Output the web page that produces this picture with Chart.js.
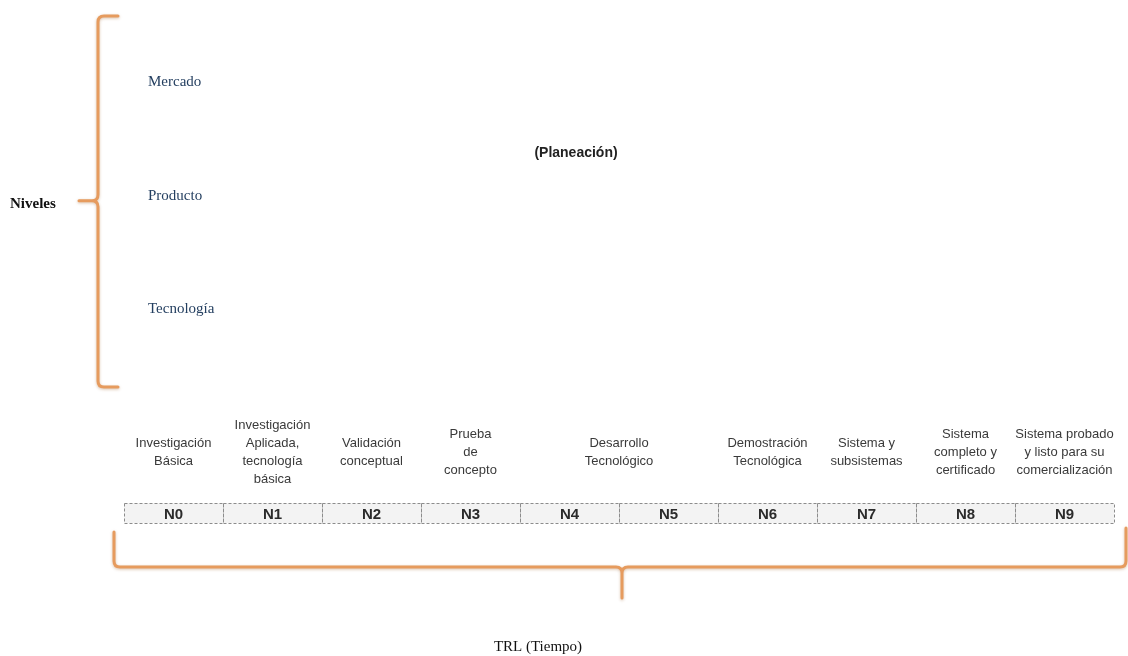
<!DOCTYPE html>
<html>
<head>
<meta charset="utf-8">
<script src="https://cdn.jsdelivr.net/npm/chart.js@4"></script>
<style>
  body { margin: 0; background: #fff; }
</style>
</head>
<body>
<canvas id="myChart" width="1128" height="656"></canvas>
<script>
let niveles = ['Mercado', 'Producto', 'Tecnología'];
let codigos = ['N0', 'N1', 'N2', 'N3', 'N4', 'N5', 'N6', 'N7', 'N8', 'N9'];
let descripciones = [
  ['Investigación', 'Básica'],
  ['Investigación', 'Aplicada,', 'tecnología', 'básica'],
  ['Validación', 'conceptual'],
  ['Prueba', 'de', 'concepto'],
  ['Desarrollo', 'Tecnológico'],
  ['Demostración', 'Tecnológica'],
  ['Sistema y', 'subsistemas'],
  ['Sistema', 'completo y', 'certificado'],
  ['Sistema probado', 'y listo para su', 'comercialización']
];
// first and last level covered by each description
let descDesde = [0, 1, 2, 3, 4, 6, 7, 8, 9];
let descHasta = [0, 1, 2, 3, 5, 6, 7, 8, 9];

let naranja = '#E69B5E';

function llave(ctx, puntos) {
  ctx.save();
  ctx.strokeStyle = naranja;
  ctx.lineWidth = 3;
  ctx.lineCap = 'round';
  ctx.lineJoin = 'round';
  ctx.shadowColor = 'rgba(150,80,20,0.35)';
  ctx.shadowBlur = 3;
  ctx.shadowOffsetY = 1;
  ctx.beginPath();
  puntos(ctx);
  ctx.stroke();
  ctx.restore();
}

let diagrama = {
  id: 'diagrama',
  beforeDraw(chart) {
    const ctx = chart.ctx;
    const x = chart.scales.x;
    const area = chart.chartArea;
    const band = x.width / codigos.length;
    const alto = 20;

    // level boxes under the description texts
    ctx.save();
    ctx.fillStyle = '#f3f3f3';
    ctx.fillRect(area.left, area.bottom, area.width, alto);
    ctx.strokeStyle = '#8c8c8c';
    ctx.lineWidth = 1;
    ctx.setLineDash([3, 2]);
    codigos.forEach((c, i) => {
      const izq = Math.round(x.getPixelForValue(i) - band / 2) + 0.5;
      ctx.strokeRect(izq, area.bottom + 0.5, band, alto);
    });
    ctx.restore();
  },
  afterDraw(chart) {
    const ctx = chart.ctx;
    const x = chart.scales.x;
    const y = chart.scales.y;
    const area = chart.chartArea;

    ctx.save();
    ctx.textBaseline = 'middle';

    // niveles (y labels)
    ctx.font = '15px "Liberation Serif", "Times New Roman", serif';
    ctx.fillStyle = '#243F60';
    ctx.textAlign = 'left';
    niveles.forEach((n, i) => {
      ctx.fillText(n, area.left + 24, y.getPixelForValue(i));
    });

    ctx.font = 'bold 15px "Liberation Serif", "Times New Roman", serif';
    ctx.fillStyle = '#111';
    ctx.fillText('Niveles', 10, y.getPixelForValue(1) + 8);

    // descriptions above the level boxes
    ctx.font = '13px "Liberation Sans", Arial, sans-serif';
    ctx.fillStyle = '#3a3a3a';
    ctx.textAlign = 'center';
    const lh = 18;
    descripciones.forEach((lineas, i) => {
      const cx = (x.getPixelForValue(descDesde[i]) + x.getPixelForValue(descHasta[i])) / 2;
      const cy = area.bottom - 51;
      const y0 = cy - (lineas.length - 1) * lh / 2;
      lineas.forEach((t, j) => ctx.fillText(t, cx, y0 + j * lh));
    });

    ctx.font = 'bold 14px "Liberation Sans", Arial, sans-serif';
    ctx.fillStyle = '#222';
    ctx.fillText('(Planeación)', 576, 153);

    ctx.font = '15px "Liberation Serif", "Times New Roman", serif';
    ctx.fillStyle = '#111';
    ctx.fillText('TRL (Tiempo)', 538, 647);
    ctx.restore();

    // vertical brace
    const bx = area.left - 26;
    const top = 16, bot = 387, mid = y.getPixelForValue(1) + 5;
    llave(ctx, c => {
      c.moveTo(bx + 20, top);
      c.lineTo(bx + 6, top);
      c.quadraticCurveTo(bx, top, bx, top + 6);
      c.lineTo(bx, mid - 6);
      c.quadraticCurveTo(bx, mid, bx - 6, mid);
      c.lineTo(bx - 19, mid);
      c.moveTo(bx - 6, mid);
      c.quadraticCurveTo(bx, mid, bx, mid + 6);
      c.lineTo(bx, bot - 6);
      c.quadraticCurveTo(bx, bot, bx + 6, bot);
      c.lineTo(bx + 20, bot);
    });

    // horizontal brace
    const hl = area.left - 10, hr = area.right + 12, hy = 567;
    const hm = (hl + hr) / 2 + 2;
    llave(ctx, c => {
      c.moveTo(hl, 532);
      c.lineTo(hl, hy - 6);
      c.quadraticCurveTo(hl, hy, hl + 6, hy);
      c.lineTo(hm - 6, hy);
      c.quadraticCurveTo(hm, hy, hm, hy + 6);
      c.lineTo(hm, 598);
      c.moveTo(hm, hy + 6);
      c.quadraticCurveTo(hm, hy, hm + 6, hy);
      c.lineTo(hr - 6, hy);
      c.quadraticCurveTo(hr, hy, hr, hy - 6);
      c.lineTo(hr, 528);
    });
  }
};

let myChart = document.getElementById('myChart').getContext('2d');

let trlChart = new Chart(myChart, {
  type: 'line',
  data: {
    labels: codigos,
    datasets: []
  },
  options: {
    responsive: false,
    animation: false,
    layout: {
      padding: { left: 124, right: 14, top: 25, bottom: 0 }
    },
    scales: {
      x: {
        type: 'category',
        offset: true,
        grid: { display: false, drawTicks: false },
        border: { display: false },
        ticks: {
          autoSkip: false,
          maxRotation: 0,
          padding: 3,
          color: '#2b2b2b',
          font: { family: '"Liberation Sans", Arial, sans-serif', size: 15, weight: 'bold' }
        },
        afterFit: function (scale) {
          scale.height = 153;
        }
      },
      y: {
        type: 'linear',
        display: false,
        reverse: true,
        min: -0.5,
        max: 3.7
      }
    },
    plugins: {
      legend: { display: false },
      tooltip: { enabled: false }
    }
  },
  plugins: [diagrama]
});
</script>
</body>
</html>
